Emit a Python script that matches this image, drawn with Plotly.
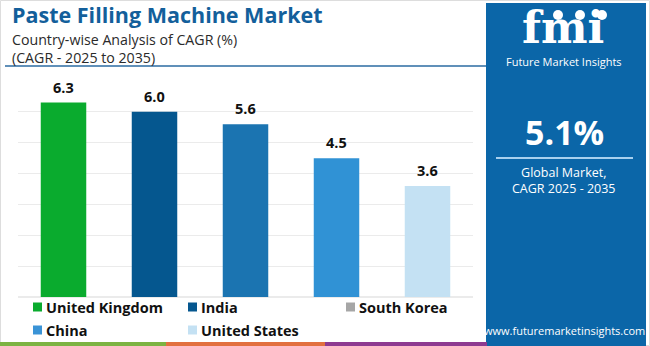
import plotly.graph_objects as go

# ---- data ----
countries = ["United Kingdom", "India", "South Korea", "China", "United States"]
cagr = [6.3, 6.0, 5.6, 4.5, 3.6]
bar_colors = ["#0aab2e", "#05578f", "#1b74b1", "#3092d5", "#c4e1f3"]
legend_colors = ["#0aab2e", "#05578f", "#a6a6a6", "#3a93d6", "#c4e1f3"]
y_ticks = [0, 1, 2, 3, 4, 5, 6, 7]
title = "Paste Filling Machine Market"
subtitle1 = "Country-wise Analysis of CAGR (%)"
subtitle2 = "(CAGR - 2025 to 2035)"
global_cagr = "5.1%"
panel_lines = ["Global Market,", "CAGR 2025 - 2035"]
url = "www.futuremarketinsights.com"

W, H = 650, 346
L, R, T, B = 18, 177, 81, 49
PW, PH = W - L - R, H - T - B

def px(x):
    return (x - L) / PW

def py(y):
    return (H - B - y) / PH

FONT = "Open Sans"

fig = go.Figure()
for c, v, col in zip(countries, cagr, bar_colors):
    fig.add_trace(go.Bar(
        x=[c], y=[v], marker=dict(color=col, line=dict(width=0)),
        width=0.5, name=c, showlegend=False,
    ))

shapes = []
annotations = []

# value labels above bars
for c, v in zip(countries, cagr):
    annotations.append(dict(text=f"<b>{v:.1f}</b>", x=c, y=v, xref="x", yref="y",
                            xanchor="center", yanchor="bottom", yshift=5, borderpad=0,
                            showarrow=False, font=dict(family=FONT, size=14.5, color="#111111")))

# outer frame
shapes.append(dict(type="rect", xref="paper", yref="paper", x0=px(0.5), x1=px(649.5),
                   y0=py(345.5), y1=py(0.5), line=dict(color="#dddddd", width=1), layer="below"))

# right panel
shapes.append(dict(type="rect", xref="paper", yref="paper", x0=px(486), x1=px(646),
                   y0=py(346), y1=py(3), fillcolor="#0b66a8", line=dict(width=0), layer="above"))

# header underline
shapes.append(dict(type="line", xref="paper", yref="paper", x0=px(5), x1=px(486),
                   y0=py(66), y1=py(66), line=dict(color="#2b6ba2", width=1.5)))

# bottom strips
for x0, x1, col in [(0, 166, "#7cb342"), (166, 325, "#e2703f"), (325, 487, "#8e3a91")]:
    shapes.append(dict(type="rect", xref="paper", yref="paper", x0=px(x0), x1=px(x1),
                       y0=py(346), y1=py(342), fillcolor=col, line=dict(width=0)))

# title texts
annotations.append(dict(text=f"<b>{title}</b>", xref="paper", yref="paper", x=px(11), y=py(14),
                        xanchor="left", yanchor="middle", showarrow=False, borderpad=0,
                        font=dict(family=FONT, size=21.5, color="#135f9b")))
annotations.append(dict(text=f"{subtitle1}<br>{subtitle2}", xref="paper", yref="paper",
                        x=px(11), y=py(48.5), xanchor="left", yanchor="middle", showarrow=False,
                        borderpad=0, align="left",
                        font=dict(family=FONT, size=14.2, color="#2a2a2a")))

# legend (manual grid)
legend_pos = [(33, 307), (188, 307), (346, 307), (33, 330), (188, 330)]
for name, col, (lx, ly) in zip(countries, legend_colors, legend_pos):
    shapes.append(dict(type="rect", xref="paper", yref="paper", x0=px(lx), x1=px(lx + 9),
                       y0=py(ly + 4.5), y1=py(ly - 4.5), fillcolor=col, line=dict(width=0)))
    annotations.append(dict(text=f"<b>{name}</b>", xref="paper", yref="paper", x=px(lx + 12),
                            y=py(ly), xanchor="left", yanchor="middle", showarrow=False,
                            borderpad=0, font=dict(family=FONT, size=14.5, color="#111111")))

# logo
annotations.append(dict(text="<b>fmi</b>", xref="paper", yref="paper", x=px(563), y=py(27.5),
                        xanchor="center", yanchor="middle", showarrow=False, borderpad=0,
                        font=dict(family="DejaVu Serif", size=44, color="white")))
for cx in [558, 580, 602]:
    shapes.append(dict(type="circle", xref="paper", yref="paper", x0=px(cx - 5), x1=px(cx + 5),
                       y0=py(20), y1=py(10), fillcolor="white", line=dict(width=0)))
annotations.append(dict(text="Future Market Insights", xref="paper", yref="paper", x=px(564),
                        y=py(61.5), xanchor="center", yanchor="middle", showarrow=False,
                        borderpad=0, font=dict(family=FONT, size=11, color="white")))

# panel stats
annotations.append(dict(text=f"<b>{global_cagr}</b>", xref="paper", yref="paper", x=px(564),
                        y=py(132), xanchor="center", yanchor="middle", showarrow=False,
                        borderpad=0, font=dict(family=FONT, size=34, color="white")))
shapes.append(dict(type="line", xref="paper", yref="paper", x0=px(496), x1=px(633),
                   y0=py(158), y1=py(158), line=dict(color="#a8d0ee", width=2)))
annotations.append(dict(text="<br>".join(panel_lines), xref="paper", yref="paper", x=px(564),
                        y=py(180), xanchor="center", yanchor="middle", showarrow=False,
                        borderpad=0, align="center",
                        font=dict(family=FONT, size=12.5, color="white")))
annotations.append(dict(text=url, xref="paper", yref="paper", x=px(564), y=py(330),
                        xanchor="center", yanchor="middle", showarrow=False, borderpad=0,
                        font=dict(family=FONT, size=11, color="white")))

fig.update_layout(
    width=W, height=H, margin=dict(l=L, r=R, t=T, b=B),
    paper_bgcolor="white", plot_bgcolor="white",
    showlegend=False, bargap=0.5,
    xaxis=dict(showticklabels=False, showgrid=False, zeroline=False, showline=False,
               range=[-0.5, 4.5], fixedrange=True),
    yaxis=dict(range=[0, 7], tickvals=y_ticks, showticklabels=False, showgrid=True,
               gridcolor="#ebebeb", gridwidth=1, zeroline=True, zerolinecolor="#ebebeb",
               showline=False),
    shapes=shapes, annotations=annotations,
)

fig.write_html("out.html")
